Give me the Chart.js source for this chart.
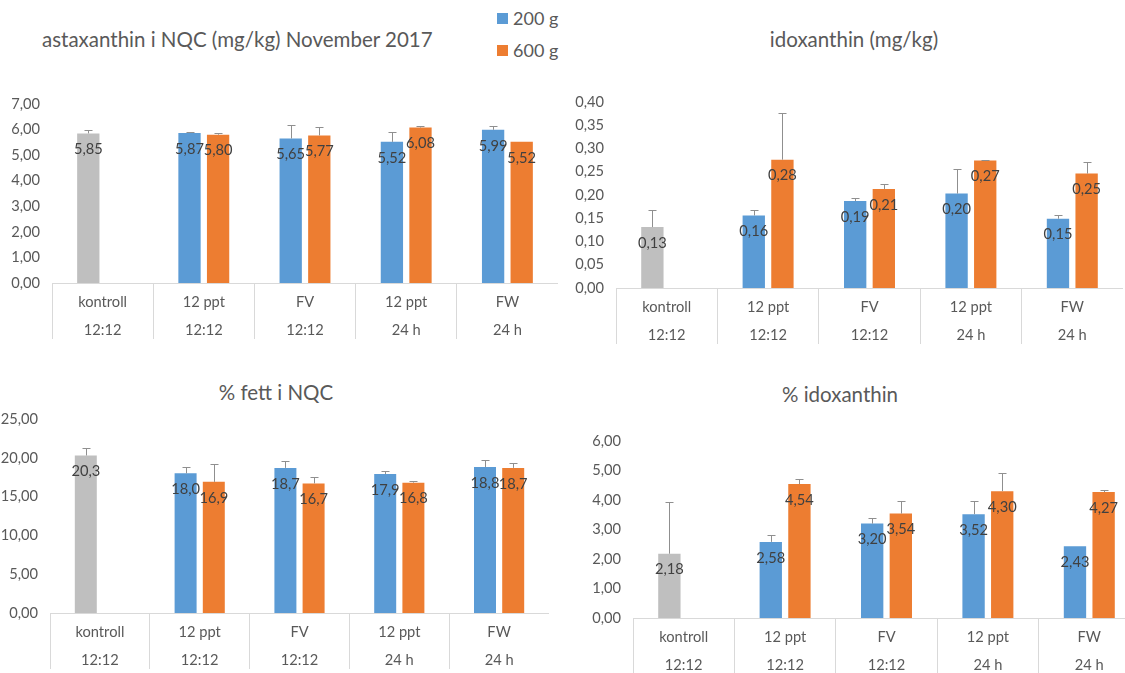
<!DOCTYPE html>
<html>
<head>
<meta charset="utf-8">
<script src="https://cdn.jsdelivr.net/npm/chart.js@4.4.1/dist/chart.umd.min.js"></script>
<style>
  html, body { margin: 0; padding: 0; background: #fff; }
  body { width: 1125px; height: 673px; position: relative; overflow: hidden; font-family: Lato, "Open Sans", sans-serif; color: #595959; }
  canvas { position: absolute; }
  .title { position: absolute; font-size: 20.5px; color: #595959; white-space: nowrap; line-height: 24px; }
  .legend { position: absolute; left: 497px; font-size: 18px; color: #595959; line-height: 22px; }
  .legend span.box { display: inline-block; width: 11px; height: 11px; margin-right: 5px; vertical-align: 1px; }
</style>
</head>
<body>
<div class="title" style="left:42px; top:27px;">astaxanthin i NQC (mg/kg) November 2017</div>
<div class="title" style="left:854px; top:27px; transform:translateX(-50%);">idoxanthin (mg/kg)</div>
<div class="title" style="left:276px; top:380px; transform:translateX(-50%);">% fett i NQC</div>
<div class="title" style="left:840px; top:382px; transform:translateX(-50%);">% idoxanthin</div>
<div class="legend" style="top:7px;"><span class="box" style="background:#5b9bd5"></span>200 g</div>
<div class="legend" style="top:39px;"><span class="box" style="background:#ed7d31"></span>600 g</div>

<canvas id="astaChart"></canvas>
<canvas id="idoxChart"></canvas>
<canvas id="fettChart"></canvas>
<canvas id="pctChart"></canvas>

<script>
// categories (two-level axis: treatment / light regime)
var categories = [['kontroll', '12:12'], ['12 ppt', '12:12'], ['FV', '12:12'], ['12 ppt', '24 h'], ['FW', '24 h']];
var seriesNames = ['200 g', '600 g'];

// astaxanthin i NQC (mg/kg)
var asta200 = [5.85, 5.87, 5.65, 5.52, 5.99];
var asta600 = [null, 5.80, 5.77, 6.08, 5.52];
var astaErr200 = [0.14, 0.02, 0.51, 0.37, 0.14];
var astaErr600 = [null, 0.07, 0.34, 0.07, 0];

// idoxanthin (mg/kg)
var idox200 = [0.131, 0.156, 0.187, 0.203, 0.149];
var idox600 = [null, 0.276, 0.213, 0.274, 0.246];
var idoxErr200 = [0.037, 0.012, 0.007, 0.052, 0.009];
var idoxErr600 = [null, 0.10, 0.011, 0.002, 0.025];

// % fett i NQC
var fett200 = [20.3, 18.0, 18.7, 17.9, 18.8];
var fett600 = [null, 16.9, 16.7, 16.8, 18.7];
var fettErr200 = [0.98, 0.84, 0.86, 0.46, 0.93];
var fettErr600 = [null, 2.24, 0.85, 0.19, 0.61];

// % idoxanthin
var pct200 = [2.18, 2.58, 3.20, 3.52, 2.43];
var pct600 = [null, 4.54, 3.54, 4.30, 4.27];
var pctErr200 = [1.76, 0.23, 0.19, 0.43, 0];
var pctErr600 = [null, 0.18, 0.41, 0.63, 0.07];

var BLUE = '#5b9bd5', ORANGE = '#ed7d31', GREY = '#bfbfbf';
var FONT = 'Lato, "Open Sans", sans-serif';

function comma(v, d) {
    return v.toFixed(d).replace('.', ',');
}

// plus-direction error bars
var errorBars = {
    id: 'errorBars',
    afterDatasetsDraw: function(chart) {
        var ctx = chart.ctx;
        var y = chart.scales.y;
        ctx.save();
        ctx.strokeStyle = '#8f8f8f';
        ctx.lineWidth = 1;
        chart.data.datasets.forEach(function(ds, i) {
            var meta = chart.getDatasetMeta(i);
            meta.data.forEach(function(bar, j) {
                var v = ds.data[j], e = ds.errors[j];
                if (v == null || !e) return;
                var top = Math.round(y.getPixelForValue(v + e)) + 0.5;
                var x = Math.round(bar.x) + 0.5;
                ctx.beginPath();
                ctx.moveTo(x, bar.y);
                ctx.lineTo(x, top);
                ctx.moveTo(x - 4, top);
                ctx.lineTo(x + 4, top);
                ctx.stroke();
            });
        });
        ctx.restore();
    }
};

// value labels just inside the top of each bar
var valueLabels = {
    id: 'valueLabels',
    afterDatasetsDraw: function(chart) {
        var ctx = chart.ctx;
        var dec = chart.options.labelDecimals;
        ctx.save();
        ctx.font = '14.67px ' + FONT;
        ctx.fillStyle = '#404040';
        ctx.textAlign = 'center';
        ctx.textBaseline = 'middle';
        chart.data.datasets.forEach(function(ds, i) {
            chart.getDatasetMeta(i).data.forEach(function(bar, j) {
                var v = ds.data[j];
                if (v == null) return;
                ctx.fillText(comma(v, dec), bar.x, bar.y + 16);
            });
        });
        ctx.restore();
    }
};

function makeChart(id, box, d200, d600, e200, e600, yMax, yStep, labelDecimals) {
    var canvas = document.getElementById(id);
    var top = box.plotTop - 16;
    var w = box.right - box.left;
    var h = box.axisY - top + 62;
    canvas.width = w;
    canvas.height = h;
    canvas.style.left = box.left + 'px';
    canvas.style.top = top + 'px';
    canvas.style.width = w + 'px';
    canvas.style.height = h + 'px';

    return new Chart(canvas.getContext('2d'), {
        type: 'bar',
        data: {
            labels: categories,
            datasets: [{
                label: seriesNames[0],
                data: d200,
                errors: e200,
                backgroundColor: d200.map(function(v, i) { return i === 0 ? GREY : BLUE; })
            }, {
                label: seriesNames[1],
                data: d600,
                errors: e600,
                backgroundColor: ORANGE
            }]
        },
        options: {
            responsive: false,
            animation: false,
            labelDecimals: labelDecimals,
            categoryPercentage: 0.565,
            barPercentage: 0.78,
            layout: { padding: { top: 16, right: 0, left: 0, bottom: 0 } },
            plugins: {
                legend: { display: false },
                tooltip: { enabled: false }
            },
            scales: {
                x: {
                    grid: {
                        offset: true,
                        drawOnChartArea: false,
                        drawTicks: true,
                        tickLength: 56,
                        color: '#d9d9d9'
                    },
                    border: { color: '#d9d9d9' },
                    ticks: {
                        color: '#595959',
                        padding: -51,
                        maxRotation: 0,
                        autoSkip: false,
                        font: { family: FONT, size: 14.67, lineHeight: 28 / 14.67 }
                    },
                    afterFit: function(scale) {
                        scale.height = 62;
                        scale.paddingLeft = 0;
                        scale.paddingRight = 0;
                    }
                },
                y: {
                    min: 0,
                    max: yMax,
                    grid: { display: false, drawTicks: false },
                    border: { display: false },
                    ticks: {
                        stepSize: yStep,
                        padding: box.tickPad,
                        color: '#595959',
                        font: { family: FONT, size: 14.67 },
                        callback: function(v) { return comma(v, 2); }
                    },
                    afterFit: function(scale) {
                        scale.width = box.plotLeft - box.left;
                        scale.paddingTop = 0;
                        scale.paddingBottom = 0;
                    }
                }
            }
        },
        plugins: [errorBars, valueLabels]
    });
}

var astaChart = makeChart('astaChart', { left: 0, right: 558, plotLeft: 52, plotTop: 104, axisY: 283, tickPad: 12 },
    asta200, asta600, astaErr200, astaErr600, 7, 1, 2);
var idoxChart = makeChart('idoxChart', { left: 565, right: 1123, plotLeft: 616, plotTop: 102, axisY: 288, tickPad: 12 },
    idox200, idox600, idoxErr200, idoxErr600, 0.4, 0.05, 2);
var fettChart = makeChart('fettChart', { left: 0, right: 549, plotLeft: 50, plotTop: 419, axisY: 613, tickPad: 12 },
    fett200, fett600, fettErr200, fettErr600, 25, 5, 1);
var pctChart = makeChart('pctChart', { left: 565, right: 1140, plotLeft: 633, plotTop: 441, axisY: 618, tickPad: 12 },
    pct200, pct600, pctErr200, pctErr600, 6, 1, 2);
</script>
</body>
</html>
